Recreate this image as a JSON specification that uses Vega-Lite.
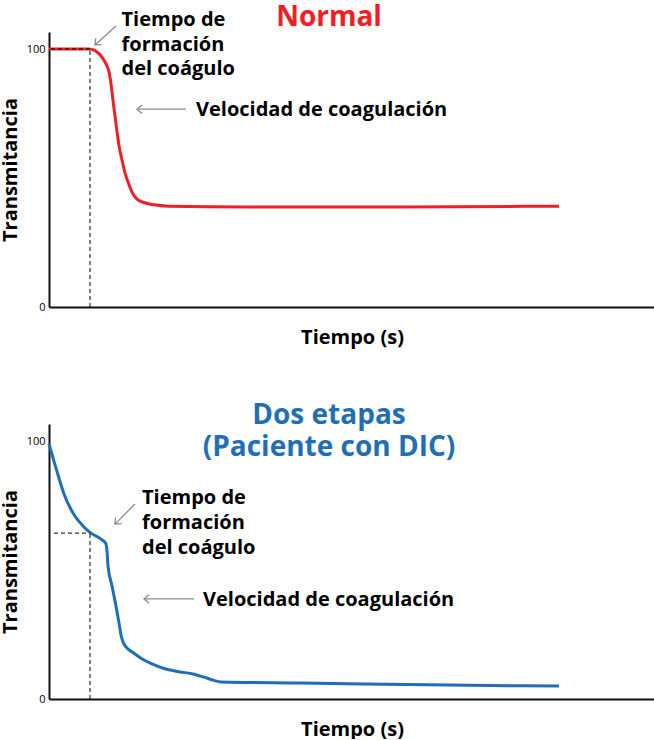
{
  "$schema": "https://vega.github.io/schema/vega-lite/v6.json",
  "padding": {"left": 0, "top": 4, "right": 0, "bottom": 0},
  "background": "white",
  "bounds": "flush",
  "spacing": 117,
  "config": {
    "view": {"stroke": null},
    "font": "Open Sans",
    "axis": {"grid": false, "ticks": false, "domainColor": "#111", "domainWidth": 2, "labelFont": "Open Sans", "labelFontSize": 11, "labelColor": "#000", "titleFont": "Open Sans", "titleFontSize": 20, "titleFontWeight": "bold", "titleColor": "#000"},
    "title": {"font": "Open Sans", "fontSize": 28, "fontWeight": "bold", "anchor": "middle", "frame": "group"}
  },
  "datasets": {
    "normal": [
      {"t": 0, "v": 100}, {"t": 40, "v": 100}, {"t": 46, "v": 99.4}, {"t": 50, "v": 98.2}, {"t": 54, "v": 96.3},
      {"t": 57, "v": 94.2}, {"t": 60, "v": 91.2}, {"t": 62, "v": 86.5}, {"t": 64, "v": 80}, {"t": 66, "v": 74},
      {"t": 68, "v": 68}, {"t": 70, "v": 62.5}, {"t": 73, "v": 57}, {"t": 76, "v": 52}, {"t": 79, "v": 48.5},
      {"t": 83, "v": 44.5}, {"t": 88, "v": 41.8}, {"t": 95, "v": 40.5}, {"t": 105, "v": 39.6}, {"t": 120, "v": 39.1},
      {"t": 200, "v": 38.8}, {"t": 350, "v": 38.8}, {"t": 510, "v": 39.1}
    ],
    "dic": [
      {"t": 0, "v": 98.8}, {"t": 7, "v": 89.5}, {"t": 15, "v": 79.5}, {"t": 24, "v": 72.1}, {"t": 34, "v": 67.1},
      {"t": 42, "v": 64.3}, {"t": 52, "v": 62.0}, {"t": 57, "v": 60.1}, {"t": 58, "v": 57.4}, {"t": 59, "v": 51.6},
      {"t": 63, "v": 43.8}, {"t": 67, "v": 36.0}, {"t": 70, "v": 29.5}, {"t": 72, "v": 24.8}, {"t": 74, "v": 22.1},
      {"t": 77, "v": 20.2}, {"t": 84, "v": 18.0}, {"t": 92, "v": 15.8}, {"t": 103, "v": 13.6}, {"t": 115, "v": 11.8},
      {"t": 130, "v": 10.6}, {"t": 145, "v": 9.6}, {"t": 155, "v": 8.5}, {"t": 165, "v": 7.2}, {"t": 172, "v": 6.6},
      {"t": 252, "v": 6.2}, {"t": 400, "v": 5.4}, {"t": 510, "v": 5.0}
    ],
    "labelsN": [
      {"text": "Tiempo de", "t": 72.5, "v": 108.9},
      {"text": "formación", "t": 72.5, "v": 99.2},
      {"text": "del coágulo", "t": 72.5, "v": 89.9},
      {"text": "Velocidad de coagulación", "t": 147, "v": 74.0}
    ],
    "labelsD": [
      {"text": "Tiempo de", "t": 93, "v": 75.6},
      {"text": "formación", "t": 93, "v": 65.9},
      {"text": "del coágulo", "t": 93, "v": 56.2},
      {"text": "Velocidad de coagulación", "t": 154, "v": 36.0}
    ],
    "arrowsN": [
      {"kind": "tiempo", "t": 67, "v": 108.9, "t2": 46, "v2": 101.6},
      {"kind": "velocidad", "t": 137, "v": 76.7, "t2": 88, "v2": 76.7}
    ],
    "arrowsD": [
      {"kind": "tiempo", "t": 86, "v": 75.6, "t2": 66, "v2": 67.8},
      {"kind": "velocidad", "t": 145, "v": 38.8, "t2": 95, "v2": 38.8}
    ],
    "guidesN": [
      {"t": 41, "v": 0, "t2": 41, "v2": 99.5},
      {"t": 2, "v": 100, "t2": 41, "v2": 100}
    ],
    "guidesD": [
      {"t": 41, "v": 0, "t2": 41, "v2": 64.3},
      {"t": 5, "v": 64.3, "t2": 41, "v2": 64.3}
    ]
  },
  "vconcat": [
    {
      "width": 606, "height": 275,
      "title": {"text": "Normal", "color": "#ee2026", "dx": -23, "offset": -22},
      "encoding": {
        "x": {"field": "t", "type": "quantitative", "scale": {"domain": [0, 606], "nice": false}, "axis": {"labels": false, "title": "Tiempo (s)", "titlePadding": 20}},
        "y": {"field": "v", "type": "quantitative", "scale": {"domain": [0, 106.6], "nice": false}, "axis": {"values": [0, 100], "title": "Transmitancia", "labelPadding": 4, "titlePadding": 6}}
      },
      "layer": [
        {"data": {"name": "normal"}, "mark": {"type": "line", "color": "#ee2026", "strokeWidth": 3, "interpolate": "monotone"}},
        {"data": {"name": "guidesN"}, "mark": {"type": "rule", "color": "#000", "strokeWidth": 1, "strokeDash": [4, 3]}, "encoding": {"x2": {"field": "t2"}, "y2": {"field": "v2"}}},
        {"data": {"name": "labelsN"}, "mark": {"type": "text", "align": "left", "baseline": "alphabetic", "font": "Open Sans", "fontWeight": "bold", "fontSize": 20, "color": "#000"}, "encoding": {"text": {"field": "text"}}},
        {"data": {"name": "arrowsN"}, "mark": {"type": "rule", "color": "#8a8a8a", "strokeWidth": 1.3}, "encoding": {"x2": {"field": "t2"}, "y2": {"field": "v2"}}},
        {"data": {"name": "arrowsN"}, "transform": [{"filter": "datum.kind === 'tiempo'"}], "mark": {"type": "point", "shape": "M1,-0.85L0,0L1,0.85", "filled": false, "color": "#8a8a8a", "strokeWidth": 1.3, "size": 100, "angle": -43, "opacity": 1}, "encoding": {"x": {"field": "t2", "type": "quantitative"}, "y": {"field": "v2", "type": "quantitative"}}},
        {"data": {"name": "arrowsN"}, "transform": [{"filter": "datum.kind === 'velocidad'"}], "mark": {"type": "point", "shape": "M1,-0.85L0,0L1,0.85", "filled": false, "color": "#8a8a8a", "strokeWidth": 1.3, "size": 100, "angle": 0, "opacity": 1}, "encoding": {"x": {"field": "t2", "type": "quantitative"}, "y": {"field": "v2", "type": "quantitative"}}}
      ]
    },
    {
      "width": 606, "height": 275,
      "title": {"text": ["Dos etapas", "(Paciente con DIC)"], "color": "#1f6fb6", "dx": -23, "offset": -38, "lineHeight": 32},
      "encoding": {
        "x": {"field": "t", "type": "quantitative", "scale": {"domain": [0, 606], "nice": false}, "axis": {"labels": false, "title": "Tiempo (s)", "titlePadding": 20}},
        "y": {"field": "v", "type": "quantitative", "scale": {"domain": [0, 106.6], "nice": false}, "axis": {"values": [0, 100], "title": "Transmitancia", "labelPadding": 4, "titlePadding": 6}}
      },
      "layer": [
        {"data": {"name": "dic"}, "mark": {"type": "line", "color": "#1f6fb6", "strokeWidth": 3, "interpolate": "monotone"}},
        {"data": {"name": "guidesD"}, "mark": {"type": "rule", "color": "#000", "strokeWidth": 1, "strokeDash": [4, 3]}, "encoding": {"x2": {"field": "t2"}, "y2": {"field": "v2"}}},
        {"data": {"name": "labelsD"}, "mark": {"type": "text", "align": "left", "baseline": "alphabetic", "font": "Open Sans", "fontWeight": "bold", "fontSize": 20, "color": "#000"}, "encoding": {"text": {"field": "text"}}},
        {"data": {"name": "arrowsD"}, "mark": {"type": "rule", "color": "#8a8a8a", "strokeWidth": 1.3}, "encoding": {"x2": {"field": "t2"}, "y2": {"field": "v2"}}},
        {"data": {"name": "arrowsD"}, "transform": [{"filter": "datum.kind === 'tiempo'"}], "mark": {"type": "point", "shape": "M1,-0.85L0,0L1,0.85", "filled": false, "color": "#8a8a8a", "strokeWidth": 1.3, "size": 100, "angle": -45, "opacity": 1}, "encoding": {"x": {"field": "t2", "type": "quantitative"}, "y": {"field": "v2", "type": "quantitative"}}},
        {"data": {"name": "arrowsD"}, "transform": [{"filter": "datum.kind === 'velocidad'"}], "mark": {"type": "point", "shape": "M1,-0.85L0,0L1,0.85", "filled": false, "color": "#8a8a8a", "strokeWidth": 1.3, "size": 100, "angle": 0, "opacity": 1}, "encoding": {"x": {"field": "t2", "type": "quantitative"}, "y": {"field": "v2", "type": "quantitative"}}}
      ]
    }
  ]
}
